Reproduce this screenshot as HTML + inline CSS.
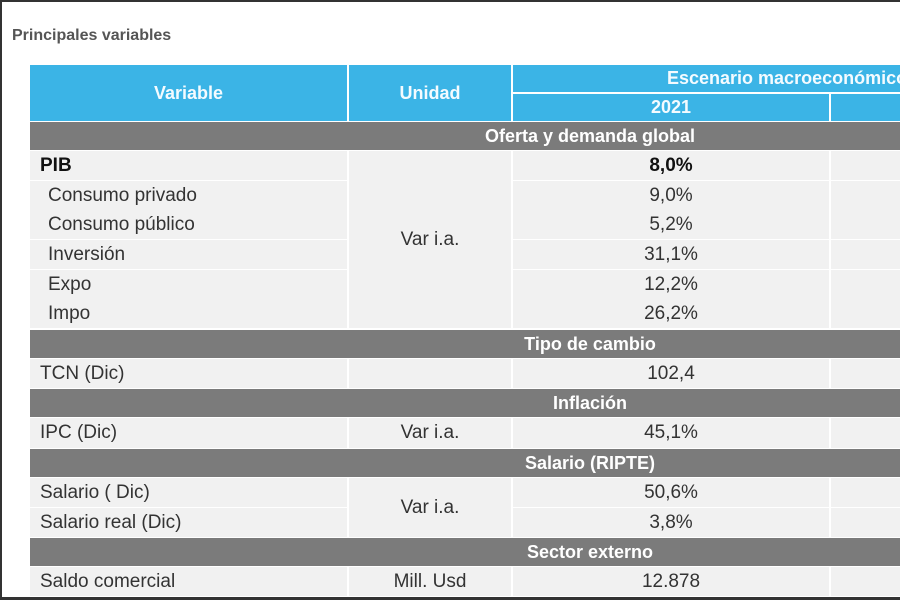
<!DOCTYPE html>
<html><head><meta charset="utf-8"><style>
body{margin:0;width:900px;height:600px;overflow:hidden;background:#fff;font-family:"Liberation Sans",sans-serif;}
#wrap{position:absolute;left:0;top:0;width:900px;height:600px;overflow:hidden;}
#frame{position:absolute;left:0;top:0;width:900px;height:600px;box-sizing:border-box;border-top:2px solid #333;border-left:2px solid #333;border-bottom:3px solid #333;z-index:5;pointer-events:none;}
.a{position:absolute;box-sizing:border-box;white-space:nowrap;}
.h{background:#3bb4e6;color:#f4fbff;font-weight:bold;font-size:18px;display:flex;align-items:center;justify-content:center;}
.g{background:#7b7b7b;color:#fff;font-weight:bold;font-size:18px;display:flex;align-items:center;justify-content:center;}
.c{background:#f1f1f1;color:#333;font-size:19px;display:flex;align-items:center;}
</style></head><body>
<div id="wrap">
<div id="frame"></div>
<div class="a" style="left:12px;top:27px;font-size:16px;font-weight:bold;color:#555">Principales variables</div>
<div id="t"></div>
</div>
<script>
const t=document.getElementById('t');
function box(cls,x,y,w,h,txt,extra){const d=document.createElement('div');d.className='a '+cls;d.style.cssText=`left:${x}px;top:${y}px;width:${w}px;height:${h}px;`+(extra||'');d.textContent=txt;


t.appendChild(d);return d;}
box('h',30,65,317,56,'Variable');
box('h',349,65,162,56,'Unidad');
box('h',513,65,400,27,'Escenario macroeconómico','justify-content:flex-start;padding-left:154px;');
box('h',513,94,316,27,'2021');
box('h',831,94,80,27,'');
const sections=[['Oferta y demanda global',122,28],['Tipo de cambio',330,28],['Inflación',389,28],['Salario (RIPTE)',449,28],['Sector externo',538,28]];
sections.forEach(s=>box('g',30,s[1],1120,s[2],s[0]));
const rows=[
['PIB',151,29,'8,0%',true],['Consumo privado',181,29,'9,0%'],['Consumo público',210,29,'5,2%'],['Inversión',240,29,'31,1%'],['Expo',270,29,'12,2%'],['Impo',299,29,'26,2%'],
['TCN (Dic)',359,29,'102,4'],['IPC (Dic)',418,30,'45,1%'],['Salario ( Dic)',478,29,'50,6%'],['Salario real (Dic)',508,29,'3,8%'],['Saldo comercial',567,29,'12.878']];
rows.forEach(r=>{
 const ind=(r[1]>=181&&r[1]<=299)?18:10;
 box('c',30,r[1],317,r[2],r[0],'padding-left:'+ind+'px;'+(r[4]?'font-weight:bold;color:#111;':''));
 box('c',513,r[1],316,r[2],r[3],'justify-content:center;'+(r[4]?'font-weight:bold;color:#111;':''));
 box('c',831,r[1],80,r[2],'');
});
box('c',349,151,162,177,'Var i.a.','justify-content:center;');
box('c',349,359,162,29,'');
box('c',349,418,162,30,'Var i.a.','justify-content:center;');
box('c',349,478,162,59,'Var i.a.','justify-content:center;');
box('c',349,567,162,29,'Mill. Usd','justify-content:center;');
</script>
</body></html>
